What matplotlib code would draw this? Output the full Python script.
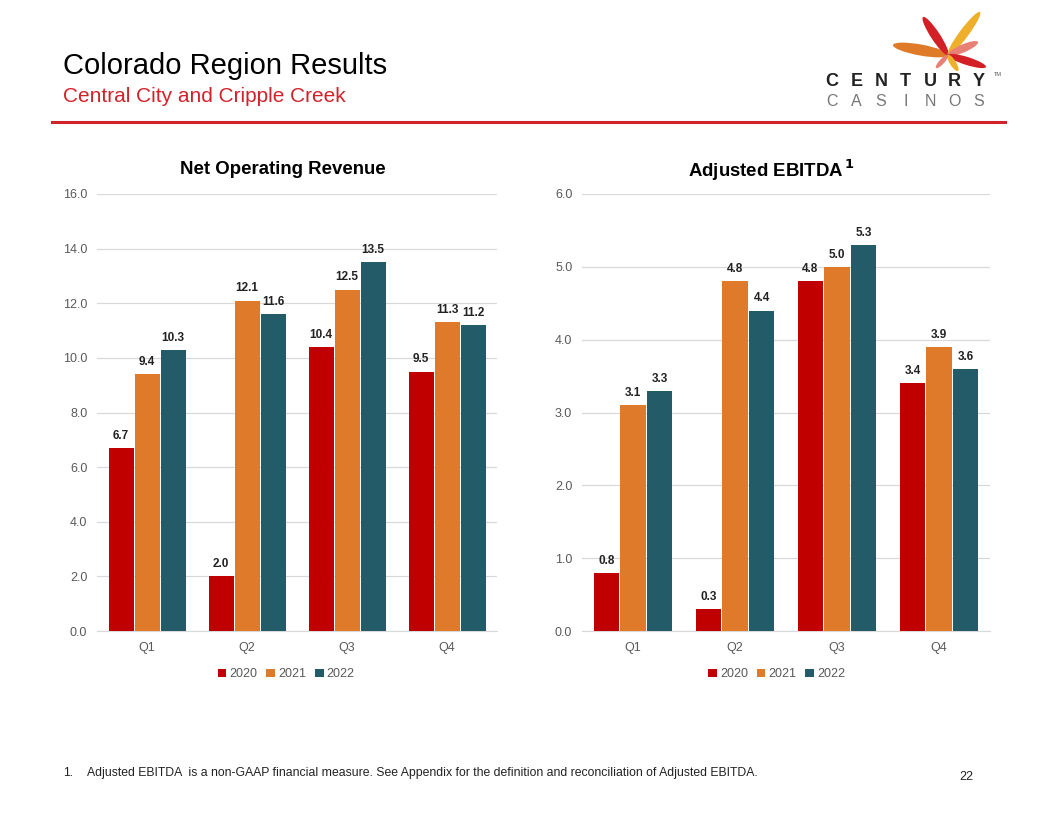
import numpy as np
import matplotlib
matplotlib.use("Agg")
import matplotlib.pyplot as plt
from matplotlib.patches import Ellipse
from matplotlib.lines import Line2D

plt.rcParams['font.family'] = ['Liberation Sans', 'DejaVu Sans']

# données
quarters = ['Q1', 'Q2', 'Q3', 'Q4']
years = ['2020', '2021', '2022']
revenue_2020 = [6.7, 2.0, 10.4, 9.5]
revenue_2021 = [9.4, 12.1, 12.5, 11.3]
revenue_2022 = [10.3, 11.6, 13.5, 11.2]
ebitda_2020 = [0.8, 0.3, 4.8, 3.4]
ebitda_2021 = [3.1, 4.8, 5.0, 3.9]
ebitda_2022 = [3.3, 4.4, 5.3, 3.6]
revenue_ticks = [0, 2, 4, 6, 8, 10, 12, 14, 16]
ebitda_ticks = [0, 1, 2, 3, 4, 5, 6]

colors = ['#C00000', '#DF7A2A', '#245B69']
grey = '#595959'

W, H = 1056, 816
fig = plt.figure(figsize=(W / 100, H / 100), dpi=100)

# titre
fig.text(63 / W, 1 - 66 / H, 'Colorado Region Results', fontsize=21,
         color='black', va='center', ha='left')
fig.text(63 / W, 1 - 96 / H, 'Central City and Cripple Creek', fontsize=15,
         color='#D2232A', va='center', ha='left')
fig.add_artist(Line2D([52 / W, 1005 / W], [1 - 122 / H, 1 - 122 / H],
                      color='#D2232A', lw=2.2, transform=fig.transFigure))

# logo (approximation), coordonnées en pixels
logo = fig.add_axes([870 / W, 1 - 80 / H, 130 / W, 80 / H])
logo.set_xlim(870, 1000)
logo.set_ylim(80, 0)
logo.axis('off')
centre = (948, 55)
petals = [
    ((893, 45), 11, '#DE7A28'),
    ((923, 17), 9, '#D32027'),
    ((980, 12), 9, '#EEB02A'),
    ((978, 42), 8, '#E98076'),
    ((986, 67), 8, '#D32027'),
    ((958, 71), 6, '#EEB02A'),
    ((936, 68), 5, '#E98076'),
]
for tip, w, c in petals:
    dx, dy = tip[0] - centre[0], tip[1] - centre[1]
    length = np.hypot(dx, dy)
    ang = np.degrees(np.arctan2(dy, dx))
    logo.add_patch(Ellipse((centre[0] + dx / 2, centre[1] + dy / 2), length, w,
                           angle=ang, color=c, lw=0))
for i, ch in enumerate('CENTURY'):
    fig.text((832 + i * 24.5) / W, 1 - 81.5 / H, ch, fontsize=13, fontweight='bold',
             color='#222222', ha='center', va='center')
for i, ch in enumerate('CASINOS'):
    fig.text((832 + i * 24.5) / W, 1 - 101.5 / H, ch, fontsize=11.5,
             color='#777777', ha='center', va='center')
fig.text(998 / W, 1 - 74 / H, 'TM', fontsize=4, color='#555555',
         ha='center', va='center')


def bar_chart(rect, v2020, v2021, v2022, ticks, title, title_x, legend_x):
    ax = fig.add_axes(rect)
    x = np.arange(len(quarters))
    width = 0.25
    step = 0.26
    for i, vals in enumerate([v2020, v2021, v2022]):
        pos = x + (i - 1) * step
        ax.bar(pos, vals, width, color=colors[i], label=years[i], zorder=3)
        for p, v in zip(pos, vals):
            ax.text(p, v + ticks[-1] * 0.014, f'{v:.1f}', ha='center', va='bottom',
                    fontsize=8.5, fontweight='bold', color='#222222')
    ax.set_xlim(-0.5, 3.5)
    ax.set_ylim(0, ticks[-1])
    ax.set_yticks(ticks)
    ax.set_yticklabels([f'{t:.1f}' for t in ticks])
    ax.set_xticks(x)
    ax.set_xticklabels(quarters)
    ax.tick_params(axis='both', length=0, labelsize=9, colors=grey)
    ax.tick_params(axis='y', pad=7)
    ax.tick_params(axis='x', pad=8)
    ax.grid(axis='y', color='#D9D9D9', lw=0.9, zorder=0)
    for s in ['top', 'right', 'left']:
        ax.spines[s].set_visible(False)
    ax.spines['bottom'].set_color('#D9D9D9')
    ax.text(title_x, 1 + 24 / 437, title, transform=ax.transAxes, fontsize=13.4,
            fontweight='bold', ha='center', va='center')
    ax.legend(loc='center', bbox_to_anchor=(legend_x, -0.099), ncol=3,
              frameon=False, fontsize=9, handlelength=0.7, handleheight=0.7,
              handletextpad=0.25, columnspacing=0.7, labelcolor=grey)
    return ax


bar_chart([97 / W, 1 - 631 / H, 400 / W, 437 / H],
          revenue_2020, revenue_2021, revenue_2022, revenue_ticks,
          'Net Operating Revenue', 0.465, 0.473)
bar_chart([582 / W, 1 - 631 / H, 408 / W, 437 / H],
          ebitda_2020, ebitda_2021, ebitda_2022, ebitda_ticks,
          r'Adjusted EBITDA$^{\,\mathbf{1}}$', 0.465, 0.477)

# note de bas de page
fig.text(63 / W, 1 - 773 / H, '1.', fontsize=8.7, color='#222222', va='center')
fig.text(87 / W, 1 - 773 / H,
         'Adjusted EBITDA  is a non-GAAP financial measure. See Appendix for the '
         'definition and reconciliation of Adjusted EBITDA.',
         fontsize=8.8, color='#222222', va='center')
fig.text(966 / W, 1 - 777 / H, '22', fontsize=9, color='#222222',
         va='center', ha='center')

fig.savefig('out.png', dpi=100)
